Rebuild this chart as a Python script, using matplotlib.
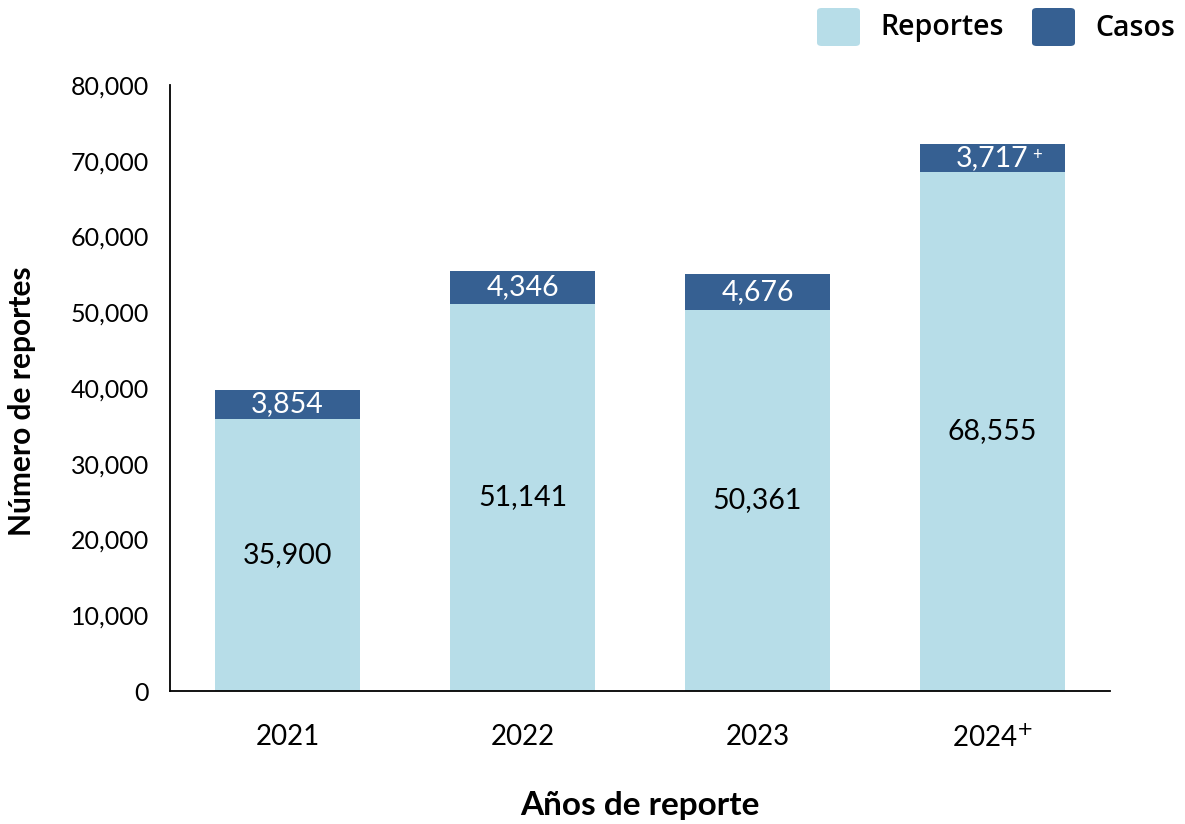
import matplotlib
matplotlib.use("Agg")
import matplotlib.pyplot as plt
from matplotlib.patches import FancyBboxPatch

years = ["2021", "2022", "2023", "2024"]
reportes = [35900, 51141, 50361, 68555]
casos = [3854, 4346, 4676, 3717]
year_marks = ["", "", "", "+"]
legend_labels = ["Reportes", "Casos"]

light = "#B7DDE8"
dark = "#366092"

plt.rcParams['font.family'] = ['Lato', 'DejaVu Sans']

fig = plt.figure(figsize=(11.85, 8.24), dpi=100)
ax = fig.add_axes([0.1435, 0.1614, 0.7932, 0.7354])

x = list(range(len(years)))
w = 0.62
ax.bar(x, reportes, width=w, color=light)
ax.bar(x, casos, width=w, bottom=reportes, color=dark)

for i in x:
    ax.text(i, reportes[i] / 2, f"{reportes[i]:,}", ha="center", va="center",
            fontsize=20.5, color="black")
    ax.text(i, reportes[i] + casos[i] / 2, f"{casos[i]:,}", ha="center", va="center",
            fontsize=20.5, color="white")
    if year_marks[i]:
        ax.annotate(year_marks[i], xy=(i, reportes[i] + casos[i] / 2), xytext=(32, 2),
                    textcoords="offset points", ha="center", va="center",
                    fontsize=12, color="white")

ax.set_xlim(-0.5, 3.5)
ax.set_ylim(0, 80000)
ax.set_yticks(range(0, 80001, 10000))
ax.set_yticklabels([f"{v:,}" for v in range(0, 80001, 10000)], fontsize=18)
ax.set_xticks(x)
ax.set_xticklabels([y + (r"$^{+}$" if m else "") for y, m in zip(years, year_marks)], fontsize=20)
ax.tick_params(axis="y", length=0, pad=15)
ax.tick_params(axis="x", length=0, pad=24)
for s in ["top", "right"]:
    ax.spines[s].set_visible(False)
for s in ["left", "bottom"]:
    ax.spines[s].set_color("black")
    ax.spines[s].set_linewidth(1.3)

ax.set_ylabel("Número de reportes", fontsize=21.5, fontweight="bold", va="center")
ax.yaxis.set_label_coords(-0.157, 0.479)
ax.set_xlabel("Años de reporte", fontsize=24, fontweight="bold", va="center")
ax.xaxis.set_label_coords(0.5, -0.189)

# Legend at top right with rounded squares
W, H = 1185, 824
leg_font = ['Open Sans', 'DejaVu Sans']
for lab, col, x0 in zip(legend_labels, [light, dark], [817, 1032]):
    fig.patches.append(FancyBboxPatch((x0 / W, 1 - 46 / H), 43 / W, 38 / H,
                                      boxstyle="round,pad=0,rounding_size=0.004",
                                      transform=fig.transFigure, facecolor=col,
                                      edgecolor="none"))
    fig.text((x0 + 63) / W, 1 - 28 / H, lab, fontsize=20.5, fontweight="semibold",
             family=leg_font, ha="left", va="center", color="black")

fig.savefig("out.png", dpi=100)
